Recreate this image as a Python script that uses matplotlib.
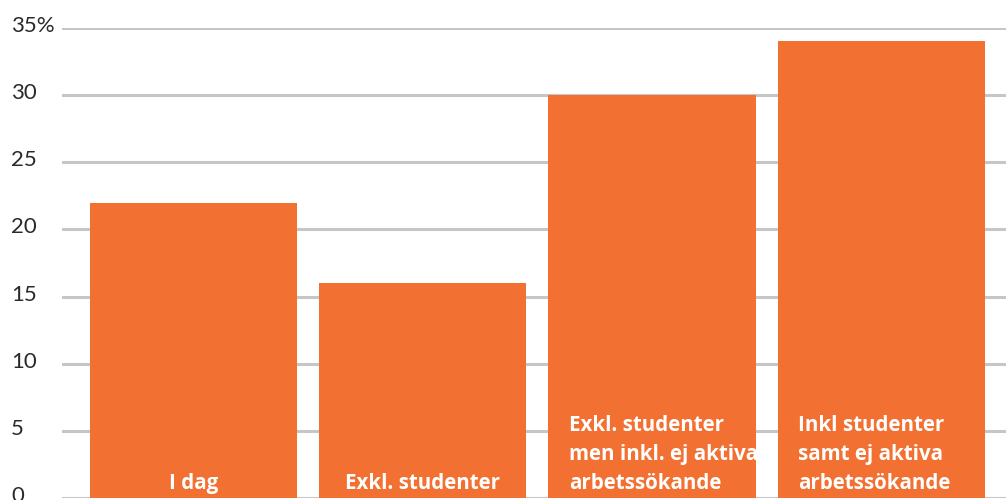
import matplotlib
matplotlib.use("Agg")
import matplotlib.pyplot as plt
import matplotlib.transforms as mtransforms

categories = ["I dag", "Exkl. studenter",
              "Exkl. studenter\nmen inkl. ej aktiva\narbetssökande",
              "Inkl studenter\nsamt ej aktiva\narbetssökande"]
values = [22, 16, 30, 34]
yticks = [0, 5, 10, 15, 20, 25, 30, 35]
ytick_labels = ["0", "5", "10", "15", "20", "25", "30", "35%"]
label_align = ["center", "center", "left", "left"]

orange = "#F27031"
plt.rcParams['font.family'] = ['Lato', 'DejaVu Sans']

fig = plt.figure(figsize=(10.06, 5.0), dpi=100)
ax = fig.add_axes([62/1006, 2/500, (1006-62)/1006, (498-28)/500])

x = list(range(len(values)))
bars = ax.bar(x, values, width=0.904, color=orange, zorder=2)
ax.set_xlim(-0.574, 3.544)
ax.set_ylim(0, 35)
ax.set_yticks(yticks)
ax.set_yticklabels(ytick_labels)
ax.yaxis.grid(True, color="#c6c6c6", linewidth=2.2, zorder=0)
ax.set_axisbelow(True)
ax.set_xticks([])
for s in ax.spines.values():
    s.set_visible(False)
ax.tick_params(axis='y', length=0, pad=36.7, labelsize=16, labelcolor="#2a2a2a")
offset = mtransforms.ScaledTranslation(0, 4/100, fig.dpi_scale_trans)
for lab in ax.get_yticklabels():
    lab.set_horizontalalignment('left')
    lab.set_transform(lab.get_transform() + offset)

for i, (cat, al) in enumerate(zip(categories, label_align)):
    if al == "center":
        xt = i
    else:
        xt = i - 0.904/2 + 0.09
    ax.text(xt, 0.3, cat, ha=al, va='bottom', color='white', fontsize=14.8,
            fontweight='bold', linespacing=1.5, zorder=3,
            family=['Open Sans', 'DejaVu Sans'])

fig.savefig("out.png", dpi=100)
